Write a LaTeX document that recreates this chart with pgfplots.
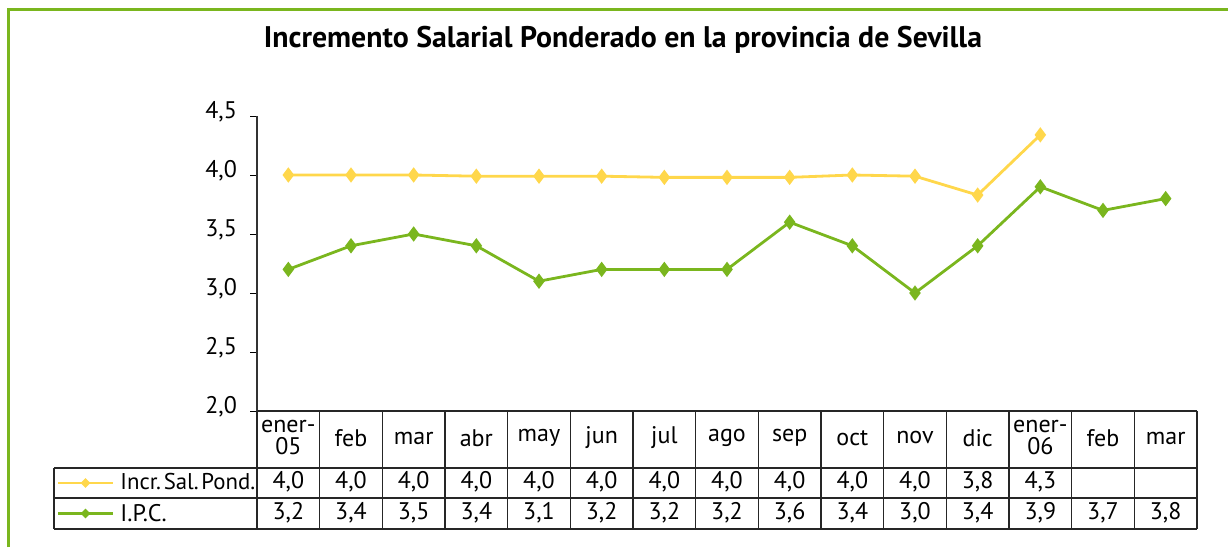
\documentclass[border=0pt]{standalone}
\usepackage{pgfplots}
\pgfplotsset{compat=1.18}
\usepackage{fontspec}
\setmainfont{PT Sans}
\definecolor{cyel}{RGB}{255,215,75}
\definecolor{cgrn}{RGB}{122,182,30}
\begin{document}
\begin{tikzpicture}[x=1pt,y=1pt]
\useasboundingbox (0,0) rectangle (614,273.5);
% border (top and left visible)
\draw[cgrn,line width=1.5pt] (4,0) -- (4,268.5) -- (616,268.5);
% title
\node[font=\fontsize{14.9}{16}\selectfont\bfseries] at (311.5,253.5) {Incremento Salarial Ponderado en la provincia de Sevilla};
\begin{axis}[
  at={(128.5pt,68pt)}, anchor=south west,
  scale only axis, width=470pt, height=147.5pt,
  xmin=-0.5, xmax=14.5, ymin=2, ymax=4.5,
  axis x line=none, axis y line*=left,
  ytick={2,2.5,...,4.5},
  yticklabel style={font=\fontsize{12}{14}\selectfont, xshift=-3pt, yshift=2pt},
  /pgf/number format/fixed, /pgf/number format/fixed zerofill,
  /pgf/number format/precision=1, /pgf/number format/use comma,
  /pgf/number format/assume math mode=true,
  tick align=outside, major tick length=3.5pt,
  tick style={black, line width=0.5pt},
  axis line style={black!80, line width=0.6pt},
  clip=false,
]
\addplot[cyel, line width=1.4pt, mark=diamond*, mark size=2.7pt, mark options={solid,fill=cyel,draw=cyel}]
  coordinates {(0,4.00) (1,4.00) (2,4.00) (3,3.99) (4,3.99) (5,3.99) (6,3.98) (7,3.98) (8,3.98) (9,4.00) (10,3.99) (11,3.83) (12,4.34)};
\addplot[cgrn, line width=1.4pt, mark=diamond*, mark size=2.7pt, mark options={solid,fill=cgrn,draw=cgrn}]
  coordinates {(0,3.2) (1,3.4) (2,3.5) (3,3.4) (4,3.1) (5,3.2) (6,3.2) (7,3.2) (8,3.6) (9,3.4) (10,3.0) (11,3.4) (12,3.9) (13,3.7) (14,3.8)};
\end{axis}
% data table
\def\cw{31.3333}
\begin{scope}[line width=0.6pt, black!85]
\draw (128.5,68) -- (598.5,68);
\draw (27,39.5) -- (598.5,39.5);
\draw (27,24.5) -- (598.5,24.5);
\draw (27,9) -- (598.5,9);
\draw (27,39.5) -- (27,9);
\foreach \i in {0,...,15} { \draw ({128.5+\i*\cw},68) -- ({128.5+\i*\cw},9); }
\end{scope}
\begin{scope}[font=\fontsize{12}{11}\selectfont]
\foreach \lab [count=\i from 0] in {{ener-\\05},feb,mar,abr,may,jun,jul,ago,sep,oct,nov,dic,{ener-\\06},feb,mar} {
  \node[align=center, inner sep=0pt] at ({128.5+(\i+0.5)*\cw},54.5) {\lab};
}
\foreach \v [count=\i from 0] in {{4,0},{4,0},{4,0},{4,0},{4,0},{4,0},{4,0},{4,0},{4,0},{4,0},{4,0},{3,8},{4,3}} {
  \node[inner sep=0pt] at ({128.5+(\i+0.5)*\cw},32.5) {\v};
}
\foreach \v [count=\i from 0] in {{3,2},{3,4},{3,5},{3,4},{3,1},{3,2},{3,2},{3,2},{3,6},{3,4},{3,0},{3,4},{3,9},{3,7},{3,8}} {
  \node[inner sep=0pt] at ({128.5+(\i+0.5)*\cw},17) {\v};
}
\node[anchor=west, inner sep=0pt, font=\fontsize{11.4}{11}\selectfont] at (60,32.5) {Incr.\hspace{0.12em}Sal.\hspace{0.12em}Pond.};
\node[anchor=west, inner sep=0pt] at (60,17) {I.P.C.};
\end{scope}
\draw[cyel, line width=1.4pt] (29,32) -- (56.5,32);
\fill[cyel] (42.75,34.4) -- (45.15,32) -- (42.75,29.6) -- (40.35,32) -- cycle;
\draw[cgrn, line width=1.4pt] (29,16.75) -- (56.5,16.75);
\fill[cgrn] (42.75,19.15) -- (45.15,16.75) -- (42.75,14.35) -- (40.35,16.75) -- cycle;
\end{tikzpicture}
\end{document}
